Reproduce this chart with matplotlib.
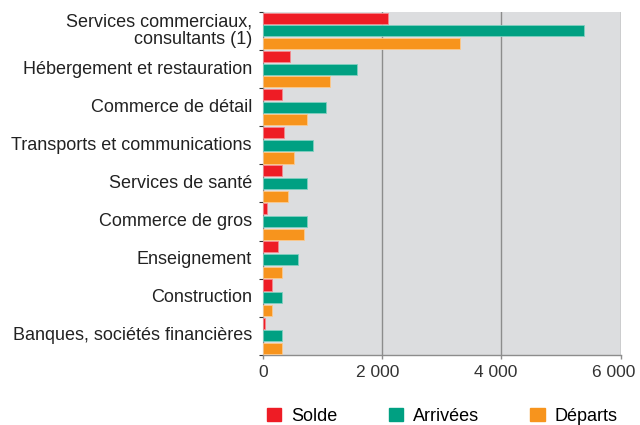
import numpy as np
import matplotlib.pyplot as plt
from matplotlib.patches import Patch

plt.rcParams['font.family'] = ['Liberation Sans', 'DejaVu Sans']

# données
secteurs = ['Services commerciaux,\nconsultants (1)', 'Hébergement et restauration',
            'Commerce de détail', 'Transports et communications', 'Services de santé',
            'Commerce de gros', 'Enseignement', 'Construction',
            'Banques, sociétés financières']
solde = [2100, 460, 320, 360, 320, 70, 260, 160, 30]
arrivees = [5380, 1580, 1060, 840, 750, 750, 590, 320, 320]
departs = [3310, 1130, 750, 520, 420, 690, 320, 160, 320]
xticks = [0, 2000, 4000, 6000]
xlabels = ['0', '2 000', '4 000', '6 000']

c_solde = '#EE1C25'
c_arr = '#00A082'
c_dep = '#F7941D'

fig = plt.figure(figsize=(6.4, 4.25), dpi=100)
ax = fig.add_axes([0.4105, 0.165, 0.5595, 0.807])
ax.set_facecolor('#DCDDDF')

y = np.arange(len(secteurs))
h = 0.29
step = 1 / 3
ax.barh(y - step, solde, height=h, color=c_solde, edgecolor='#F48A8F', linewidth=0.6, zorder=3)
ax.barh(y, arrivees, height=h, color=c_arr, edgecolor='#7FCFC0', linewidth=0.6, zorder=3)
ax.barh(y + step, departs, height=h, color=c_dep, edgecolor='#FBC98E', linewidth=0.6, zorder=3)

ax.set_xlim(0, 6000)
ax.set_ylim(len(secteurs) - 0.5, -0.5)
ax.set_xticks(xticks)
ax.set_xticklabels([])
ax.xaxis.grid(True, color='#8C8C8C', linewidth=1.0, zorder=1)
# étiquettes de l'axe x, légèrement décalées vers la gauche comme dans l'original
for xv, lab, dx in zip(xticks, xlabels, [0, -3, -4, -5]):
    ax.annotate(lab, (xv, 0), xycoords=ax.get_xaxis_transform(), xytext=(dx, -7),
                textcoords='offset points', ha='center', va='top', fontsize=12.5,
                color='#333333')

# libellés centrés, ticks aux limites des groupes
ax.set_yticks(np.arange(len(secteurs) + 1) - 0.5)
ax.set_yticklabels([])
ax.tick_params(axis='y', length=3, color='#333333', width=0.8)
ax.tick_params(axis='x', length=3, color='#8C8C8C', width=1.0)
for i, s in enumerate(secteurs):
    ax.text(-180, i, s, ha='right', va='center', fontsize=13, color='#222222',
            linespacing=1.0)

for side in ['top', 'right']:
    ax.spines[side].set_visible(False)
ax.spines['left'].set_color('#8C8C8C')
ax.spines['bottom'].set_color('#8C8C8C')
ax.spines['bottom'].set_linewidth(1.0)

handles = [Patch(color=c_solde, label='Solde'), Patch(color=c_arr, label='Arrivées'),
           Patch(color=c_dep, label='Départs')]
fig.legend(handles=handles, loc='lower left', bbox_to_anchor=(0.392, -0.038), ncol=3,
           frameon=False, fontsize=13, handlelength=0.78, handleheight=0.78,
           handletextpad=0.55, columnspacing=2.85)

fig.savefig('out.png', dpi=100)
